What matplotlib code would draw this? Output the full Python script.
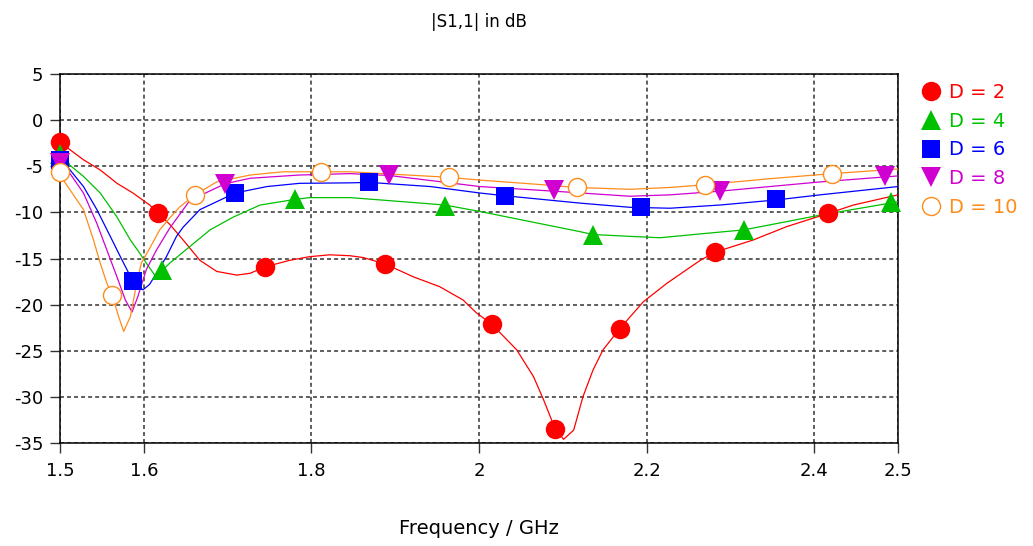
import matplotlib
matplotlib.use("Agg")
import matplotlib.pyplot as plt

plt.rcParams["axes.unicode_minus"] = False

# curve samples (frequency in GHz, |S11| in dB)
freq_d2 = [1.500, 1.528, 1.548, 1.568, 1.587, 1.607, 1.617, 1.631, 1.647, 1.667, 1.687, 1.711,
           1.727, 1.745, 1.774, 1.798, 1.822, 1.846, 1.862, 1.888, 1.922, 1.953, 1.981, 1.997,
           2.015, 2.045, 2.065, 2.077, 2.091, 2.101, 2.113, 2.124, 2.136, 2.148, 2.168, 2.196,
           2.224, 2.264, 2.282, 2.327, 2.367, 2.417, 2.447, 2.500]
s11_d2 = [-2.4, -4.3, -5.4, -6.85, -7.9, -9.2, -10.1, -11.3, -13.0, -15.2, -16.4, -16.8,
          -16.6, -15.9, -15.2, -14.8, -14.6, -14.7, -14.9, -15.6, -17.0, -18.05, -19.5, -20.9,
          -22.1, -24.9, -27.8, -30.3, -33.5, -34.6, -33.6, -30.0, -27.1, -24.9, -22.6, -19.7,
          -17.7, -15.2, -14.3, -13.0, -11.55, -10.1, -9.2, -8.1]

freq_d4 = [1.500, 1.512, 1.528, 1.548, 1.568, 1.584, 1.595, 1.603, 1.613, 1.622, 1.631, 1.655,
           1.679, 1.707, 1.739, 1.780, 1.798, 1.822, 1.846, 1.882, 1.959, 2.001, 2.061, 2.121,
           2.136, 2.180, 2.216, 2.268, 2.316, 2.407, 2.500]
s11_d4 = [-3.7, -4.9, -6.1, -7.9, -10.5, -13.0, -14.4, -15.5, -16.8, -16.3, -15.5, -13.7,
          -11.9, -10.5, -9.2, -8.6, -8.4, -8.4, -8.4, -8.65, -9.2, -9.9, -11.0, -12.1,
          -12.4, -12.6, -12.75, -12.3, -11.9, -10.3, -8.85]

freq_d6 = [1.500, 1.512, 1.528, 1.544, 1.560, 1.572, 1.586, 1.599, 1.607, 1.615, 1.627, 1.639,
           1.647, 1.667, 1.709, 1.747, 1.786, 1.846, 1.869, 1.942, 2.001, 2.031, 2.121, 2.180,
           2.228, 2.288, 2.355, 2.407, 2.500]
s11_d6 = [-4.3, -5.4, -7.2, -9.7, -12.6, -14.8, -17.3, -18.4, -17.8, -16.6, -14.8, -12.6,
          -11.6, -9.7, -7.9, -7.2, -6.85, -6.8, -6.75, -7.2, -7.9, -8.2, -9.0, -9.45,
          -9.55, -9.2, -8.65, -8.1, -7.2]

freq_d8 = [1.500, 1.512, 1.528, 1.544, 1.556, 1.568, 1.578, 1.586, 1.593, 1.603, 1.615, 1.631,
           1.655, 1.697, 1.727, 1.786, 1.846, 1.893, 2.001, 2.089, 2.180, 2.228, 2.288, 2.347,
           2.407, 2.500]
s11_d8 = [-4.7, -5.8, -7.9, -11.2, -14.1, -17.0, -19.5, -20.8, -19.1, -16.2, -14.1, -11.7,
          -8.7, -6.9, -6.3, -5.95, -5.8, -6.0, -7.2, -7.7, -8.25, -8.1, -7.7, -7.2,
          -6.7, -6.05]

freq_d10 = [1.500, 1.504, 1.528, 1.540, 1.548, 1.556, 1.562, 1.570, 1.576, 1.584, 1.590, 1.597,
            1.607, 1.619, 1.631, 1.643, 1.661, 1.687, 1.727, 1.766, 1.813, 1.846, 1.964, 2.001,
            2.061, 2.117, 2.180, 2.228, 2.270, 2.347, 2.421, 2.500]
s11_d10 = [-5.6, -6.5, -9.7, -13.0, -15.5, -17.7, -18.9, -21.3, -22.9, -21.3, -18.4, -15.5,
           -13.9, -11.9, -10.6, -9.4, -8.1, -6.7, -5.95, -5.6, -5.6, -5.6, -6.2, -6.5,
           -6.9, -7.3, -7.5, -7.3, -7.0, -6.35, -5.8, -5.3]

# marker positions
mk_f_d2 = [1.5, 1.617, 1.745, 1.888, 2.015, 2.091, 2.168, 2.282, 2.417]
mk_v_d2 = [-2.4, -10.1, -15.9, -15.6, -22.1, -33.5, -22.6, -14.3, -10.1]
mk_f_d4 = [1.5, 1.622, 1.780, 1.959, 2.136, 2.316, 2.492]
mk_v_d4 = [-3.7, -16.2, -8.6, -9.3, -12.5, -11.9, -8.9]
mk_f_d6 = [1.5, 1.587, 1.709, 1.869, 2.031, 2.193, 2.355]
mk_v_d6 = [-4.3, -17.4, -7.9, -6.75, -8.2, -9.4, -8.6]
mk_f_d8 = [1.5, 1.697, 1.893, 2.089, 2.288, 2.484]
mk_v_d8 = [-4.7, -6.9, -6.0, -7.6, -7.7, -6.1]
mk_f_d10 = [1.5, 1.562, 1.661, 1.812, 1.964, 2.117, 2.270, 2.421]
mk_v_d10 = [-5.6, -19.0, -8.1, -5.6, -6.2, -7.3, -7.0, -5.8]

labels = ["D = 2", "D = 4", "D = 6", "D = 8", "D = 10"]
colors = ["#ff0000", "#00c000", "#0000ff", "#d000d0", "#ff8c1a"]

x_ticks = [1.5, 1.6, 1.8, 2.0, 2.2, 2.4, 2.5]
x_tick_labels = ["1.5", "1.6", "1.8", "2", "2.2", "2.4", "2.5"]
y_ticks = [5, 0, -5, -10, -15, -20, -25, -30, -35]

fig = plt.figure(figsize=(10.33, 5.46), dpi=100)
ax = fig.add_axes([60 / 1033, 1 - 443 / 546, 838 / 1033, 369 / 546])

curves = [(freq_d2, s11_d2), (freq_d4, s11_d4), (freq_d6, s11_d6),
          (freq_d8, s11_d8), (freq_d10, s11_d10)]
marks = [(mk_f_d2, mk_v_d2, "o"), (mk_f_d4, mk_v_d4, "^"), (mk_f_d6, mk_v_d6, "s"),
         (mk_f_d8, mk_v_d8, "v"), (mk_f_d10, mk_v_d10, "o")]

handles = []
for i in range(5):
    f, v = curves[i]
    ax.plot(f, v, color=colors[i], lw=0.9, zorder=3 + i)
for i in range(5):
    mf, mv, m = marks[i]
    face = "white" if i == 4 else colors[i]
    size = 13 if i == 4 else 14
    if m == "s":
        size = 13
    h, = ax.plot(mf, mv, linestyle="none", marker=m, markersize=size,
                 markerfacecolor=face, markeredgecolor=colors[i],
                 markeredgewidth=1.0 if i == 4 else 0, zorder=10 + i, label=labels[i],
                 clip_on=False)
    handles.append(h)

ax.set_xlim(1.5, 2.5)
ax.set_ylim(-35, 5)
ax.set_xticks(x_ticks)
ax.set_xticklabels(x_tick_labels)
ax.set_yticks(y_ticks)
ax.grid(True, color="#333333", linestyle=(0, (2.6, 2.0)), lw=1.1)
ax.set_axisbelow(True)
for sp in ax.spines.values():
    sp.set_linewidth(1.1)
    sp.set_color("black")
ax.tick_params(direction="out", length=7, width=1, color="#333333",
               labelsize=13, pad=5)
ax.tick_params(axis="x", pad=7)

ax.set_title("|S1,1| in dB", fontsize=12, pad=34)
ax.set_xlabel("Frequency / GHz", fontsize=14, labelpad=28)

leg = ax.legend(handles=handles, loc="upper left",
                bbox_to_anchor=(921 / 1033, 1 - 83 / 546),
                bbox_transform=fig.transFigure, frameon=False, fontsize=14,
                handlelength=1.0, handletextpad=0.45, borderpad=0, borderaxespad=0,
                labelspacing=0.5, labelcolor=colors, markerscale=1.0)

fig.savefig("out.png", dpi=100)
